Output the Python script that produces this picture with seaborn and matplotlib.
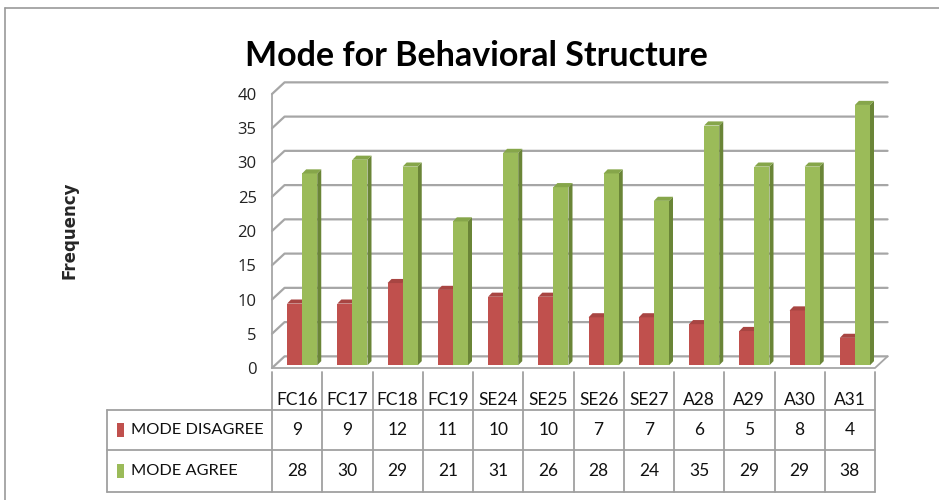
import pandas as pd
import matplotlib.pyplot as plt
import matplotlib.transforms as mtransforms
from matplotlib.patches import Polygon, Rectangle
import seaborn as sns

items = ["FC16", "FC17", "FC18", "FC19", "SE24", "SE25",
         "SE26", "SE27", "A28", "A29", "A30", "A31"]
disagree = [9, 9, 12, 11, 10, 10, 7, 7, 6, 5, 8, 4]
agree = [28, 30, 29, 21, 31, 26, 28, 24, 35, 29, 29, 38]
series_names = ["MODE DISAGREE", "MODE AGREE"]
y_ticks = [0, 5, 10, 15, 20, 25, 30, 35, 40]

red = "#C0504D"
green = "#9BBB59"
red_side = "#8C3533"
green_side = "#6A8537"
red_top = "#A84542"
green_top = "#86A64A"
grid_col = "#A6A6A6"

df = pd.DataFrame({
    "item": items * 2,
    "value": disagree + agree,
    "series": [series_names[0]] * len(items) + [series_names[1]] * len(items),
})

sns.set_style("white")
plt.rcParams["font.family"] = ["Open Sans", "DejaVu Sans"]

fig = plt.figure(figsize=(9.39, 5.0), dpi=100)
ax = fig.add_axes([272 / 939, 132 / 500, 603 / 939, 274 / 500])

# depth of the back wall, in data units
wdx, wdy = 0.25, 1.7
# depth of each bar
bdx, bdy = 0.08, 0.6

# back wall gridlines
n = len(items)
for k in y_ticks:
    ax.plot([-0.5, -0.5 + wdx, n - 0.5 + wdx], [k, k + wdy, k + wdy],
            color=grid_col, lw=1.6, clip_on=False, zorder=1)
ax.plot([-0.5, -0.5], [0, 40], color=grid_col, lw=1.3, clip_on=False, zorder=1)
ax.plot([-0.5, n - 0.5, n - 0.5 + wdx], [0, 0, wdy],
        color=grid_col, lw=1.3, clip_on=False, zorder=1)

sns.barplot(data=df, x="item", y="value", hue="series",
            palette=[red, green], width=0.6, ax=ax, legend=False,
            saturation=1, edgecolor="none")

for i, p in enumerate(ax.patches):
    is_red = i < n
    p.set_x(p.get_x() + 0.1)
    p.set_y(0.4)
    p.set_zorder(2 if is_red else 4)
    x, w, h = p.get_x(), p.get_width(), p.get_height()
    y0, y1 = 0.4, 0.4 + h
    side = Polygon([(x + w, y0), (x + w + bdx, y0 + bdy), (x + w + bdx, y1 + bdy), (x + w, y1)],
                   closed=True, facecolor=red_side if is_red else green_side,
                   edgecolor="none", zorder=1.5 if is_red else 3.5)
    top = Polygon([(x, y1), (x + bdx, y1 + bdy), (x + w + bdx, y1 + bdy), (x + w, y1)],
                  closed=True, facecolor=red_top if is_red else green_top,
                  edgecolor="none", zorder=2 if is_red else 4)
    ax.add_patch(side)
    ax.add_patch(top)

ax.set_xlim(-0.5, n - 0.5)
ax.set_ylim(0, 40)
ax.set_yticks(y_ticks)
ax.set_yticklabels([str(t) for t in y_ticks], fontsize=12, color="#222222")
ax.tick_params(axis="y", length=0, pad=11)
ax.set_xticks([])
ax.set_xlabel("")
ax.set_ylabel("")
for s in ax.spines.values():
    s.set_visible(False)

# data table under the chart
trans = mtransforms.blended_transform_factory(ax.transData, ax.transAxes)
lc = "#A0A0A0"
y_hdr_top, y_r1, y_r2, y_bot = -0.015, -0.153, -0.299, -0.453
for j in range(n + 1):
    ax.plot([j - 0.5, j - 0.5], [y_hdr_top, y_bot], color=lc, lw=1.3,
            transform=trans, clip_on=False)
left_x = 107 / 939
axf = ax.get_position()
left_ax = (left_x - axf.x0) / axf.width
for yy in (y_r1, y_r2, y_bot):
    ax.plot([left_ax, 1.0], [yy, yy], color=lc, lw=1.3,
            transform=ax.transAxes, clip_on=False)
ax.plot([left_ax, left_ax], [y_r1, y_bot], color=lc, lw=1.3,
        transform=ax.transAxes, clip_on=False)

txt = dict(fontsize=12.5, color="#111111", family=["Lato", "DejaVu Sans"])
for j, name in enumerate(items):
    ax.text(j, -0.117, name, transform=trans, ha="center", va="center", **txt)
    ax.text(j, (y_r1 + y_r2) / 2, str(disagree[j]), transform=trans,
            ha="center", va="center", **txt)
    ax.text(j, (y_r2 + y_bot) / 2, str(agree[j]), transform=trans,
            ha="center", va="center", **txt)

for yy0, yy1, col, name in ((y_r1, y_r2, red, series_names[0]),
                            (y_r2, y_bot, green, series_names[1])):
    ym = (yy0 + yy1) / 2
    ax.add_patch(Rectangle((left_ax + 0.016, ym - 0.024), 0.013, 0.048,
                           transform=ax.transAxes, facecolor=col,
                           edgecolor="none", clip_on=False))
    ax.text(left_ax + 0.040, ym, name, transform=ax.transAxes,
            ha="left", va="center", fontsize=11.8, color="#111111",
            family=["Lato", "DejaVu Sans"])

fig.text(476 / 939, 1 - 56 / 500, "Mode for Behavioral Structure",
         ha="center", va="center", fontsize=24.5, fontweight="bold",
         color="black", family=["Lato", "DejaVu Sans"])
fig.text(70 / 939, 1 - 230 / 500, "Frequency", rotation=90,
         ha="center", va="center", fontsize=12, fontweight="bold",
         family=["DejaVu Sans"])

# outer chart border
fig.add_artist(plt.Line2D([5 / 939, 1], [1 - 8 / 500, 1 - 8 / 500],
                          color="#9A9A9A", lw=1.2, transform=fig.transFigure))
fig.add_artist(plt.Line2D([5 / 939, 5 / 939], [0, 1 - 8 / 500],
                          color="#9A9A9A", lw=1.2, transform=fig.transFigure))

fig.savefig("out.png", dpi=100)
